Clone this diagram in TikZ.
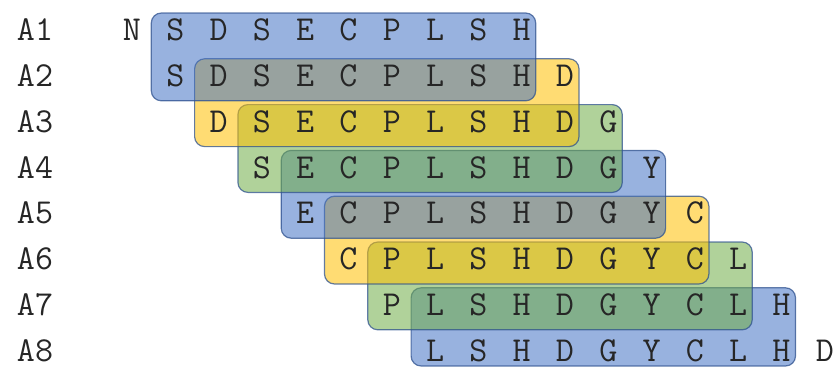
\documentclass[tikz,border=0pt]{standalone}
\usepackage{fontspec}
\definecolor{blu}{HTML}{4472C4}
\definecolor{yel}{HTML}{FFC000}
\definecolor{grn}{HTML}{70AD47}
\definecolor{boxline}{HTML}{2F528F}
\definecolor{txt}{HTML}{262626}
\begin{document}
\begin{tikzpicture}[x=1pt,y=-1pt,
  seqbox/.style={rounded corners=10pt, line width=1.2pt, draw=boxline, draw opacity=0.75, fill opacity=0.55},
  lab/.style={font=\fontsize{35}{35}\selectfont\ttfamily, text=txt, inner sep=0pt}]
\useasboundingbox (0,0) rectangle (833,367);
% boxes, last drawn lies on top
\foreach \b/\c in {7/blu,6/grn,5/yel,4/blu,3/grn,2/yel,1/blu}{
  \pgfmathsetmacro\xl{132+43.3*\b-24}
  \pgfmathsetmacro\xr{132+43.3*(\b+8)+14}
  \pgfmathsetmacro\yt{30+45.8*(\b-1)-17}
  \pgfmathsetmacro\yb{min(30+45.8*\b+25,366)}
  \path[seqbox, fill=\c] (\xl,\yt) rectangle (\xr,\yb);
}
% row labels and letters
\foreach \r in {1,...,8}{
  \pgfmathsetmacro\yy{30+45.8*(\r-1)}
  \node[lab] (A\r) at (35,\yy) {A\r};
  \foreach \ch [count=\i from 0] in {N,S,D,S,E,C,P,L,S,H,D,G,Y,C,L,H,D}{
    \ifnum\i<\numexpr\r-1\relax\else
      \ifnum\i>\numexpr\r+8\relax\else
        \node[lab] (c\r-\i) at ({132+43.3*\i},\yy) {\ch};
      \fi
    \fi
  }
}
\end{tikzpicture}
\end{document}
